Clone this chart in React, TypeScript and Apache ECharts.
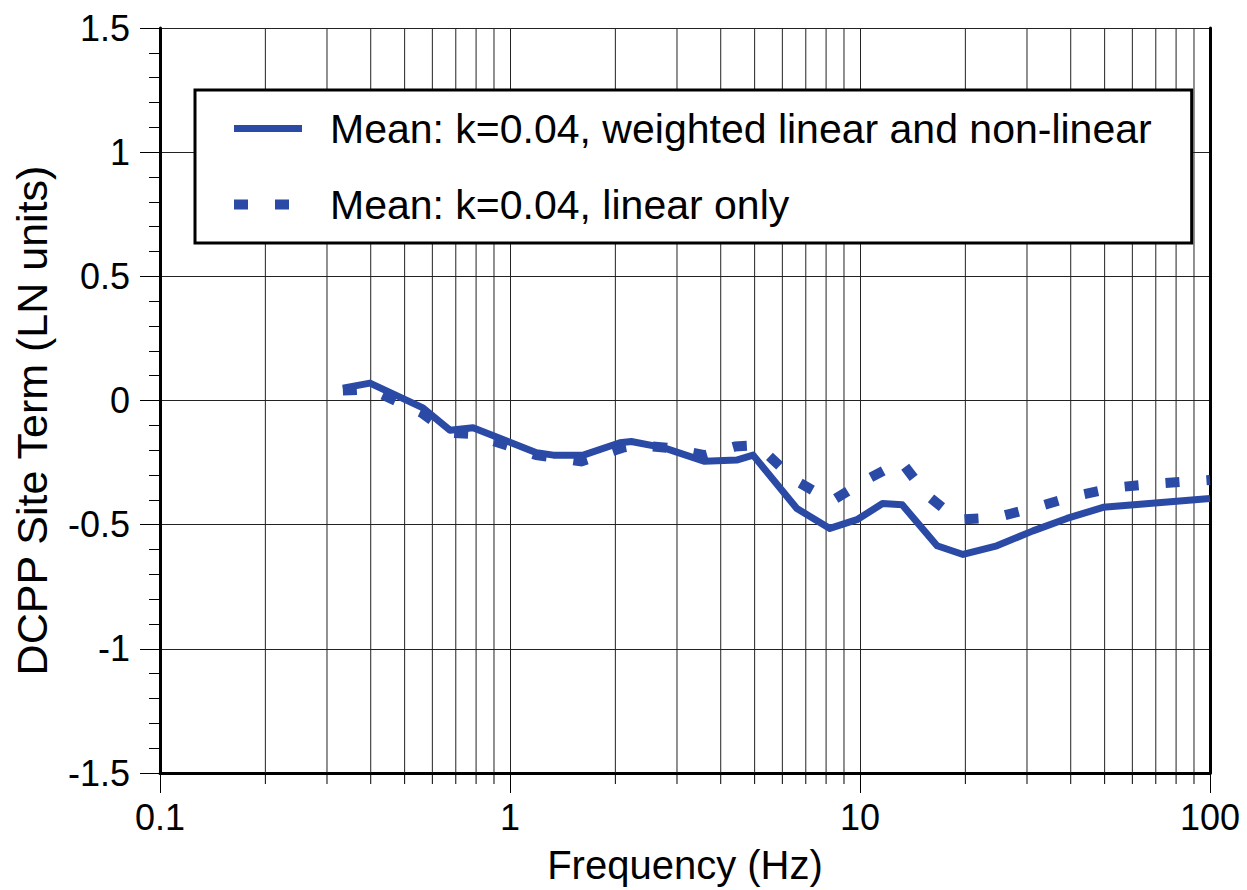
import React, { useEffect, useRef } from 'react';
import * as echarts from 'echarts';

const solidName = 'Mean: k=0.04, weighted linear and non-linear';
const dottedName = 'Mean: k=0.04, linear only';

const freqSolid = [0.333, 0.398, 0.564, 0.674, 0.784, 1.19, 1.33, 1.62, 2.06, 2.22, 2.74, 3.6, 4.44, 4.95, 6.6, 8.2, 9.8, 11.6, 13.2, 16.6, 19.7, 24.6, 31.2, 39, 49.5, 67, 100];
const valSolid = [0.05, 0.07, -0.03, -0.12, -0.11, -0.21, -0.22, -0.22, -0.17, -0.165, -0.19, -0.245, -0.24, -0.22, -0.435, -0.515, -0.48, -0.415, -0.42, -0.585, -0.62, -0.585, -0.525, -0.475, -0.43, -0.415, -0.395];

const freqDotted = [0.333, 0.4, 0.56, 0.67, 0.78, 1.19, 1.6, 2.1, 2.3, 2.8, 3.6, 4.4, 5.1, 6.5, 8.3, 10.4, 13.1, 15.5, 19.0, 24.7, 31.8, 41, 54, 70, 100];
const valDotted = [0.04, 0.045, -0.05, -0.13, -0.135, -0.22, -0.245, -0.19, -0.18, -0.19, -0.22, -0.185, -0.18, -0.32, -0.405, -0.32, -0.245, -0.38, -0.48, -0.47, -0.43, -0.385, -0.35, -0.335, -0.32];

const minorFreqs = [0.2, 0.3, 0.4, 0.5, 0.6, 0.7, 0.8, 0.9, 2, 3, 4, 5, 6, 7, 8, 9, 20, 30, 40, 50, 60, 70, 80, 90];

const xTickLabels: Record<string, string> = { '0.1': '0.1', '1': '1', '10': '10', '100': '100' };

export default function App() {
  const ref = useRef<HTMLDivElement>(null);
  useEffect(() => {
    const chart = echarts.init(ref.current!, null, { renderer: 'svg' });
    const font = '"Liberation Sans", Arial, Helvetica, sans-serif';
    const blue = '#2a4aa6';
    chart.setOption({
      animation: false,
      backgroundColor: '#fff',
      grid: { left: 160, right: 37, top: 28, bottom: 117 },
      legend: {
        orient: 'vertical',
        left: 195,
        top: 90,
        data: [solidName, dottedName],
        borderColor: '#000',
        borderWidth: 3,
        backgroundColor: '#fff',
        padding: [18, 40, 18, 34],
        itemGap: 35,
        itemWidth: 68,
        itemHeight: 14,
        selectedMode: false,
        textStyle: { fontSize: 41, color: '#000', fontFamily: font, padding: [0, 0, 0, 23] },
        itemStyle: { color: 'rgba(0,0,0,0)', borderWidth: 0, opacity: 0 },
        lineStyle: { width: 'inherit', type: 'inherit', opacity: 1 },
      },
      xAxis: {
        type: 'log',
        logBase: 10,
        min: 0.1,
        max: 100,
        axisLine: { show: true, onZero: false, lineStyle: { color: '#000', width: 3 } },
        axisTick: { show: true, length: 20, lineStyle: { color: '#000', width: 1 } },
        axisLabel: {
          fontSize: 36,
          color: '#000',
          fontFamily: font,
          margin: 26,
          formatter: (v: number) => xTickLabels[String(+v.toPrecision(6))] ?? String(v),
        },
        splitLine: { show: true, lineStyle: { color: '#222', width: 1 } },
        name: 'Frequency (Hz)',
        nameLocation: 'middle',
        nameGap: 72,
        nameTextStyle: { fontSize: 40, color: '#000', fontFamily: font },
      },
      yAxis: [
        {
          type: 'value',
          min: -1.5,
          max: 1.5,
          interval: 0.5,
          axisLine: { show: true, onZero: false, lineStyle: { color: '#000', width: 3 } },
          axisTick: { show: true, length: 20, lineStyle: { color: '#000', width: 1 } },
          minorTick: { show: true, splitNumber: 5, length: 11, lineStyle: { color: '#000', width: 1 } },
          axisLabel: { fontSize: 36, color: '#000', fontFamily: font, margin: 30 },
          splitLine: { show: true, lineStyle: { color: '#222', width: 1 } },
          name: 'DCPP Site Term (LN units)',
          nameLocation: 'middle',
          nameGap: 107,
          nameTextStyle: { fontSize: 43, color: '#000', fontFamily: font, padding: [0, 40, 0, 0] },
        },
        {
          type: 'value',
          position: 'right',
          min: -1.5,
          max: 1.5,
          interval: 0.5,
          axisLine: { show: true, onZero: false, lineStyle: { color: '#000', width: 3 } },
          axisTick: { show: false },
          axisLabel: { show: false },
          splitLine: { show: false },
        },
      ],
      series: [
        {
          type: 'custom',
          name: 'minor-grid',
          silent: true,
          z: 1,
          clip: false,
          encode: { x: 0, y: 1 },
          data: minorFreqs.map((f) => [f, 0]),
          renderItem: (params: any, api: any) => {
            const x = api.value(0);
            const top = api.coord([x, 1.5]);
            const bot = api.coord([x, -1.5]);
            return {
              type: 'group',
              children: [
                { type: 'line', shape: { x1: top[0], y1: top[1], x2: bot[0], y2: bot[1] }, style: { stroke: '#222', lineWidth: 1 } },
                { type: 'line', shape: { x1: bot[0], y1: bot[1], x2: bot[0], y2: bot[1] + 11 }, style: { stroke: '#000', lineWidth: 1 } },
              ],
            };
          },
        },
        {
          type: 'line',
          name: solidName,
          data: freqSolid.map((f, i) => [f, valSolid[i]]),
          symbol: 'none',
          z: 3,
          itemStyle: { color: blue },
          lineStyle: { color: blue, width: 7, cap: 'butt', join: 'round' },
        },
        {
          type: 'line',
          name: dottedName,
          data: freqDotted.map((f, i) => [f, valDotted[i]]),
          symbol: 'none',
          z: 3,
          itemStyle: { color: blue },
          lineStyle: { color: blue, width: 10, type: [14, 27], cap: 'butt', join: 'miter' },
        },
      ],
    });
    return () => chart.dispose();
  }, []);
  return <div ref={ref} style={{ position: 'absolute', left: 0, top: 0, width: 1247, height: 890, background: '#fff' }} />;
}
